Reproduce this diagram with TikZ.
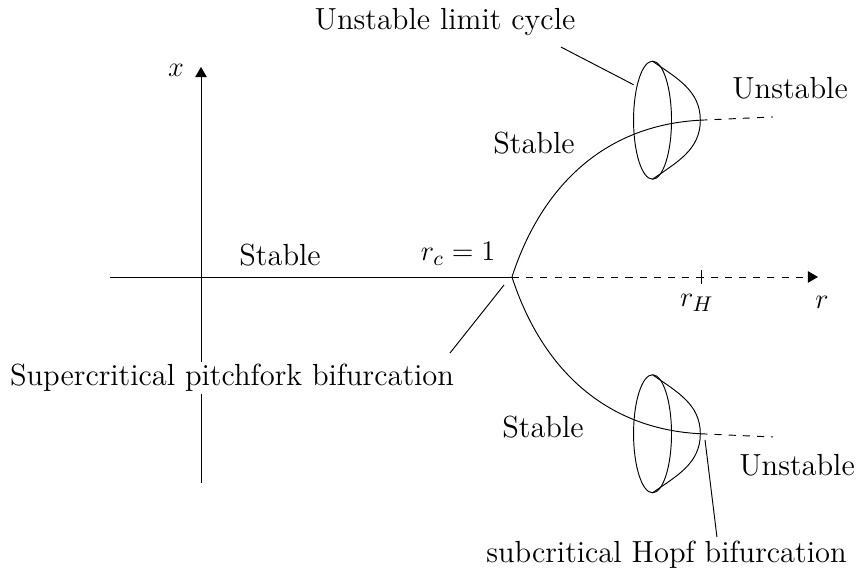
\documentclass[tikz,border=0pt]{standalone}
\usetikzlibrary{arrows.meta}

\begin{document}
\begin{tikzpicture}[
                axis/.style={
                    -{Triangle[length=1.5mm,width=1.7mm]}
                },
                branch/.style={
                    line width=0.4pt
                },
                cycle/.style={
                    line width=0.4pt
                },
                label/.style={
                    inner sep=1pt,
                    font=\fontsize{12.9pt}{15pt}\selectfont
                },
                pointer/.style={
                    line width=0.4pt
                }
            ]
                \useasboundingbox (-2.987,-4.473) rectangle (9.808,4.116);

                % axes
                \coordinate (bif) at (4.621,0);
                \coordinate (rh) at (7.43,0);
                \coordinate (xstart) at (-1.352,0);
                \coordinate (xend) at (9.169,0);
                \draw (xstart) -- (bif);
                \draw[axis,dashed] (bif) -- (xend);
                \draw[axis] (0,-3.061) -- (0,3.121);
                \draw (7.43,-0.097) -- (7.43,0.097);
                \node[label] (xlab) at (-0.371,3.076) {$x$};
                \node[label] (rlab) at (9.228,-0.371) {$r$};
                \node[label] (rhlab) at (7.37,-0.38) {$r_H$};
                \node[label] (rclab) at (3.819,0.342) {$r_c=1$};

                % branches
                \coordinate (uptip) at (7.42,2.33);
                \coordinate (lotip) at (7.42,-2.33);
                \draw[branch] (bif) to[out=72,in=183] (uptip);
                \draw[branch] (bif) to[out=-72,in=177] (lotip);
                \draw[dashed] (uptip) -- (8.50,2.378);
                \draw[dashed] (lotip) -- (8.50,-2.378);

                % limit cycles
                \draw[cycle] (6.71,2.33) ellipse (0.282 and 0.877);
                \draw[cycle] (6.71,3.207) to[out=-35,in=90] (uptip) to[out=-90,in=35] (6.71,1.453);
                \draw[cycle] (6.71,-2.33) ellipse (0.282 and 0.877);
                \draw[cycle] (6.71,-1.453) to[out=-35,in=90] (lotip) to[out=-90,in=35] (6.71,-3.207);

                % labels
                \node[label] (stab0) at (1.174,0.327) {Stable};
                \node[label] (stab1) at (4.948,1.991) {Stable};
                \node[label] (stab2) at (5.082,-2.229) {Stable};
                \node[label] (unst1) at (8.753,2.809) {Unstable};
                \node[label] (unst2) at (8.857,-2.794) {Unstable};
                \node[label] (ulc) at (3.626,3.789) {Unstable limit cycle};
                \node[label,fill=white] (pitch) at (0.461,-1.501) {Supercritical pitchfork bifurcation};
                \node[label] (hopf) at (6.917,-4.131) {subcritical Hopf bifurcation};

                % pointers
                \coordinate (ulcend) at (6.43,2.856);
                \coordinate (pitchend) at (4.503,-0.119);
                \coordinate (hopfend) at (7.49,-2.422);
                \draw[pointer] (5.349,3.417) -- (ulcend);
                \draw[pointer] (3.700,-1.130) -- (pitchend);
                \draw[pointer] (7.667,-3.864) -- (hopfend);
        \end{tikzpicture}
\end{document}
